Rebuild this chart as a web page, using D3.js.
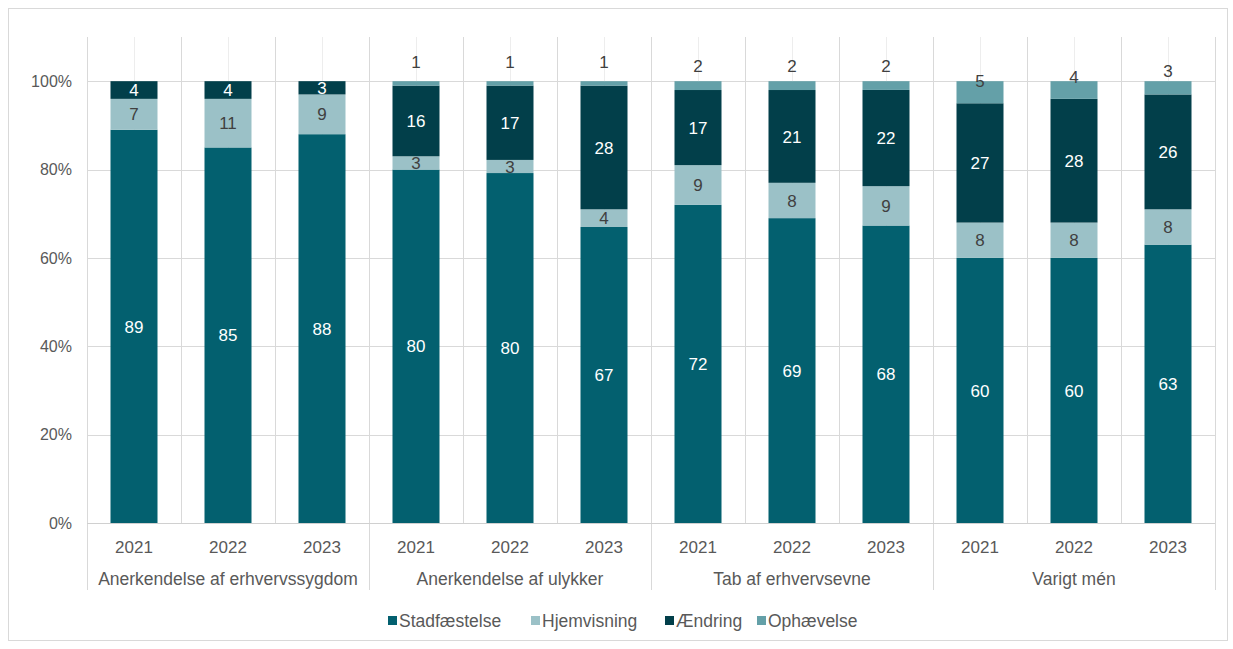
<!DOCTYPE html>
<html><head><meta charset="utf-8">
<script src="https://cdn.jsdelivr.net/npm/d3@7"></script>
<style>body{margin:0;background:#fff}svg{display:block;font-family:"Liberation Sans",Arial,sans-serif}</style>
</head><body><svg id="c" width="1233" height="649"></svg>
<script>
const groups = ["Anerkendelse af erhvervssygdom","Anerkendelse af ulykker","Tab af erhvervsevne","Varigt mén"];
const years = ["2021","2022","2023"];
const seriesNames = ["Stadfæstelse","Hjemvisning","Ændring","Ophævelse"];
const stadfaestelse = [89,85,88,80,80,67,72,69,68,60,60,63];
const hjemvisning   = [7,11,9,3,3,4,9,8,9,8,8,8];
const aendring      = [4,4,3,16,17,28,17,21,22,27,28,26];
const ophaevelse    = [0,0,0,1,1,1,2,2,2,5,4,3];
const yTicks = [0,20,40,60,80,100];

const colors = ["#03606f","#9bc1c7","#023f4a","#64a0a8"];
const labelColors = ["#ffffff","#404040","#ffffff","#404040"];

const svg = d3.select("#c");
const m = {l:87, r:1215, t:37, b:523};

svg.append("rect").attr("x",8.5).attr("y",8.5).attr("width",1219).attr("height",632)
  .attr("fill","none").attr("stroke","#d9d9d9");

const cats = [];
groups.forEach(g=>years.forEach(y=>cats.push(g+"|"+y)));
const x = d3.scaleBand().domain(cats).range([m.l,m.r]).paddingInner(0.5).paddingOuter(0.25);
const step = x.step();
const y = d3.scaleLinear().domain([0,110]).range([m.b,m.t]);

const raw = [stadfaestelse,hjemvisning,aendring,ophaevelse];
const rows = cats.map((c,i)=>{
  const tot = raw.reduce((s,a)=>s+a[i],0);
  const o = {cat:c};
  seriesNames.forEach((s,k)=>{o[s]=raw[k][i]/tot*100;});
  return o;
});
const stack = d3.stack().keys(seriesNames)(rows);

svg.append("g").selectAll("line").data(yTicks.filter(d=>d>0)).join("line")
  .attr("x1",m.l).attr("x2",m.r).attr("y1",d=>Math.round(y(d))+0.5).attr("y2",d=>Math.round(y(d))+0.5)
  .attr("stroke","#d9d9d9");
svg.append("g").selectAll("line").data(cats).join("line")
  .attr("x1",d=>Math.round(x(d)+x.bandwidth()/2)+0.5).attr("x2",d=>Math.round(x(d)+x.bandwidth()/2)+0.5)
  .attr("y1",m.t).attr("y2",m.b).attr("stroke","#ededed");
const bounds = d3.range(cats.length+1).map(i=>m.l+i*step);
svg.append("g").selectAll("line").data(bounds).join("line")
  .attr("x1",d=>Math.round(d)+0.5).attr("x2",d=>Math.round(d)+0.5)
  .attr("y1",m.t).attr("y2",(d,i)=> i%3===0 ? 590 : m.b).attr("stroke","#d9d9d9");

stack.forEach((layer,k)=>{
  svg.append("g").selectAll("rect").data(layer).join("rect")
    .attr("x",(d,i)=>x(cats[i])).attr("width",x.bandwidth())
    .attr("y",d=>y(d[1])).attr("height",d=>Math.max(0,y(d[0])-y(d[1])))
    .attr("fill",colors[k]);
});
svg.append("line").attr("x1",m.l).attr("x2",m.r).attr("y1",m.b+0.5).attr("y2",m.b+0.5).attr("stroke","#d0d0d0");

const ophNudge = [0,0,0,-3,-3,-3,1,1,1,16,12,6];
stack.forEach((layer,k)=>{
  const items = layer.map((d,i)=>({d,i,v:raw[k][i]})).filter(o=>o.v>0);
  svg.append("g").selectAll("text").data(items).join("text")
    .attr("x",o=>x(cats[o.i])+x.bandwidth()/2)
    .attr("y",o=> k===3 ? y(100)-16+ophNudge[o.i] : (y(o.d[0])+y(o.d[1]))/2)
    .attr("dy","0.36em").attr("text-anchor","middle")
    .attr("font-size",17).attr("fill",labelColors[k])
    .text(o=>o.v);
});

svg.append("g").selectAll("text").data(yTicks).join("text")
  .attr("x",72).attr("y",d=>y(d)).attr("dy","0.36em").attr("text-anchor","end")
  .attr("font-size",16).attr("fill","#595959").text(d=>d+"%");

svg.append("g").selectAll("text").data(cats).join("text")
  .attr("x",d=>x(d)+x.bandwidth()/2).attr("y",547).attr("dy","0.36em").attr("text-anchor","middle")
  .attr("font-size",17).attr("fill","#595959").text(d=>d.split("|")[1]);
svg.append("g").selectAll("text").data(groups).join("text")
  .attr("x",(d,i)=>m.l+(i*3+1.5)*step).attr("y",579).attr("dy","0.36em").attr("text-anchor","middle")
  .attr("font-size",17.5).attr("fill","#595959").text(d=>d);

const legX = [388,531,665,757];
const leg = svg.append("g");
seriesNames.forEach((s,k)=>{
  leg.append("rect").attr("x",legX[k]).attr("y",616).attr("width",9).attr("height",9).attr("fill",colors[k]);
  leg.append("text").attr("x",legX[k]+11).attr("y",621).attr("dy","0.36em")
    .attr("font-size",17.5).attr("fill","#595959").text(s);
});
</script></body></html>
